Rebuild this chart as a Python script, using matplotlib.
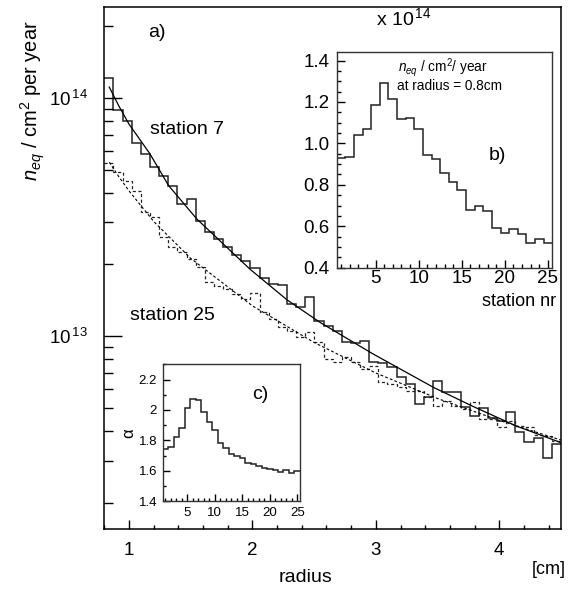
import numpy as np
import matplotlib
matplotlib.use('Agg')
import matplotlib.pyplot as plt
from matplotlib.ticker import MultipleLocator, LogLocator, NullFormatter, FixedLocator, FormatStrFormatter

plt.rcParams['font.family'] = ['Liberation Sans', 'DejaVu Sans']
plt.rcParams['mathtext.fontset'] = 'custom'
plt.rcParams['mathtext.rm'] = 'Liberation Sans'
plt.rcParams['mathtext.it'] = 'Liberation Sans:italic'

# radial histograms, 50 bins from 0.8 to 4.5 cm (values in 1e13 / cm^2 / year)
r_min, r_max, n_bins = 0.8, 4.5, 50
station7 = [12.1, 8.93, 7.98, 6.45, 5.82, 5.11, 4.72, 4.26, 3.59, 3.76,
            3.03, 2.73, 2.56, 2.37, 2.18, 2.06, 1.93, 1.75, 1.65, 1.64,
            1.36, 1.32, 1.46, 1.16, 1.105, 1.05, 0.944, 0.935, 0.953, 0.778,
            0.774, 0.741, 0.671, 0.632, 0.518, 0.553, 0.645, 0.580, 0.580, 0.502,
            0.463, 0.497, 0.455, 0.441, 0.478, 0.394, 0.358, 0.375, 0.309, 0.352]
station25 = [5.33, 4.89, 4.48, 4.07, 3.32, 3.16, 2.61, 2.37, 2.25, 2.11,
             1.95, 1.69, 1.63, 1.58, 1.50, 1.43, 1.52, 1.26, 1.18, 1.09,
             1.05, 0.99, 1.04, 0.941, 0.801, 0.775, 0.814, 0.775, 0.727, 0.750,
             0.639, 0.629, 0.609, 0.589, 0.587, 0.553, 0.510, 0.535, 0.510, 0.493,
             0.530, 0.451, 0.448, 0.417, 0.441, 0.420, 0.417, 0.384, 0.379, 0.363]

# fitted curves
fit7_r = [0.84, 0.92, 1.0, 1.17, 1.32, 1.55, 1.98, 2.28, 2.55, 2.98, 3.47, 3.79, 4.14, 4.5]
fit7_v = [11.1, 9.2, 7.76, 5.82, 4.29, 3.10, 1.91, 1.42, 1.14, 0.84, 0.608, 0.506, 0.419, 0.357]
fit25_r = [0.84, 0.92, 1.0, 1.2, 1.5, 2.0, 2.5, 3.0, 3.5, 4.0, 4.5]
fit25_v = [5.37, 4.65, 4.07, 3.03, 2.12, 1.34, 0.94, 0.70, 0.547, 0.443, 0.366]

# inset b: flux at r = 0.8 cm per station (x 1e14), inset c: slope alpha per station
stations = list(range(1, 26))
flux_08 = [0.930, 0.936, 1.04, 1.069, 1.184, 1.293, 1.215, 1.116, 1.125, 1.072,
           0.946, 0.925, 0.856, 0.815, 0.774, 0.679, 0.698, 0.675, 0.593, 0.567,
           0.589, 0.564, 0.520, 0.539, 0.520]
alpha = [1.747, 1.76, 1.82, 1.882, 2.015, 2.074, 2.065, 1.989, 1.923, 1.871,
         1.781, 1.751, 1.714, 1.699, 1.683, 1.655, 1.648, 1.633, 1.622, 1.611,
         1.605, 1.596, 1.607, 1.590, 1.60]

fig = plt.figure(figsize=(5.74, 5.92), dpi=100)

# main panel a)
ax = fig.add_axes([0.1817, 0.1064, 0.7957, 0.8813])
edges = np.linspace(r_min, r_max, n_bins + 1)
ax.stairs(np.array(station7) * 1e13, edges, baseline=None, color='#222222', lw=1.1)
ax.stairs(np.array(station25) * 1e13, edges, baseline=None, color='#222222', lw=0.9,
          ls=(0, (2.5, 2)))
ax.plot(fit7_r, np.array(fit7_v) * 1e13, color='k', lw=0.9)
ax.plot(fit25_r, np.array(fit25_v) * 1e13, color='k', lw=0.8, ls=(0, (2.5, 2)))

ax.set_yscale('log')
ax.set_xlim(r_min, r_max)
ax.set_ylim(1.55e12, 2.4e14)
ax.yaxis.set_major_locator(FixedLocator([1e13, 1e14]))
ax.set_yticklabels(['10$^{\\,13}$', '10$^{\\,14}$'])
ax.yaxis.set_minor_locator(LogLocator(base=10, subs=range(2, 10), numticks=20))
ax.yaxis.set_minor_formatter(NullFormatter())
ax.xaxis.set_major_locator(MultipleLocator(1))
ax.xaxis.set_minor_locator(MultipleLocator(0.2))
ax.tick_params(axis='y', which='major', direction='in', length=13, width=1, pad=12, labelsize=13.5)
ax.tick_params(axis='y', which='minor', direction='in', length=6.5, width=1)
ax.tick_params(axis='x', which='major', direction='in', length=6.5, width=1, pad=9, labelsize=13.5)
ax.tick_params(axis='x', which='minor', direction='in', length=3, width=1)
for s in ax.spines.values():
    s.set_linewidth(1.1)

ax.text(0.115, 0.951, 'a)', transform=ax.transAxes, fontsize=14, ha='center', va='center')
ax.text(0.1, 0.765, 'station 7', transform=ax.transAxes, fontsize=14, ha='left', va='center')
ax.text(0.056, 0.41, 'station 25', transform=ax.transAxes, fontsize=14, ha='left', va='center')

fig.text(33 / 574, 1 - 101 / 592, '$n_{eq}$ / cm$^{2}$ per year', rotation=90,
         fontsize=14.5, ha='center', va='center')
fig.text(305 / 574, 1 - 578 / 592, 'radius', fontsize=14, ha='center', va='center')
fig.text(549 / 574, 1 - 569 / 592, '[cm]', fontsize=13, ha='center', va='center')

# inset b)
axb = fig.add_axes([0.5866, 0.5478, 0.3756, 0.3639])
st_edges = np.arange(0.5, 26.0, 1.0)
axb.stairs(flux_08, st_edges, baseline=None, color='#222222', lw=1.1)
axb.set_xlim(0.5, 25.5)
axb.set_ylim(0.4, 1.44)
axb.xaxis.set_major_locator(MultipleLocator(5))
axb.xaxis.set_minor_locator(MultipleLocator(1))
axb.yaxis.set_major_locator(MultipleLocator(0.2))
axb.yaxis.set_minor_locator(MultipleLocator(0.05))
axb.yaxis.set_major_formatter(FormatStrFormatter('%.1f'))
axb.tick_params(which='major', direction='in', length=6, width=1, labelsize=13.5)
axb.tick_params(which='minor', direction='in', length=3, width=1)
axb.tick_params(axis='y', pad=5)
axb.tick_params(axis='x', pad=1.5)
for s in axb.spines.values():
    s.set_linewidth(1.0)
    s.set_color('#333333')
axb.text(0.284, 0.93, '$n_{eq}$ / cm$^{2}$/ year', transform=axb.transAxes,
         fontsize=9.8, ha='left', va='center')
axb.text(0.278, 0.845, 'at radius = 0.8cm', transform=axb.transAxes,
         fontsize=9.8, ha='left', va='center')
axb.text(0.744, 0.523, 'b)', transform=axb.transAxes, fontsize=14, ha='center', va='center')
fig.text(404 / 574, 1 - 18 / 592, 'x 10$^{\\,14}$', fontsize=14, ha='center', va='center')
fig.text(556 / 574, 1 - 301 / 592, 'station nr', fontsize=13, ha='right', va='center')

# inset c)
axc = fig.add_axes([0.2834, 0.1529, 0.2392, 0.2318])
axc.stairs(alpha, st_edges, baseline=None, color='#222222', lw=1.1)
axc.set_xlim(0.5, 25.5)
axc.set_ylim(1.4, 2.3)
axc.xaxis.set_major_locator(MultipleLocator(5))
axc.xaxis.set_minor_locator(MultipleLocator(1))
axc.yaxis.set_major_locator(FixedLocator([1.4, 1.6, 1.8, 2.0, 2.2]))
axc.set_yticklabels(['1.4', '1.6', '1.8', '2', '2.2'])
axc.yaxis.set_minor_locator(MultipleLocator(0.1))
axc.tick_params(which='major', direction='in', length=5, width=1, labelsize=9.5, pad=4)
axc.tick_params(which='minor', direction='in', length=2.5, width=1)
for s in axc.spines.values():
    s.set_linewidth(1.0)
    s.set_color('#333333')
axc.set_ylabel('α', fontsize=12, labelpad=2)
axc.text(0.709, 0.776, 'c)', transform=axc.transAxes, fontsize=14, ha='center', va='center')

fig.savefig('out.png', dpi=100)
